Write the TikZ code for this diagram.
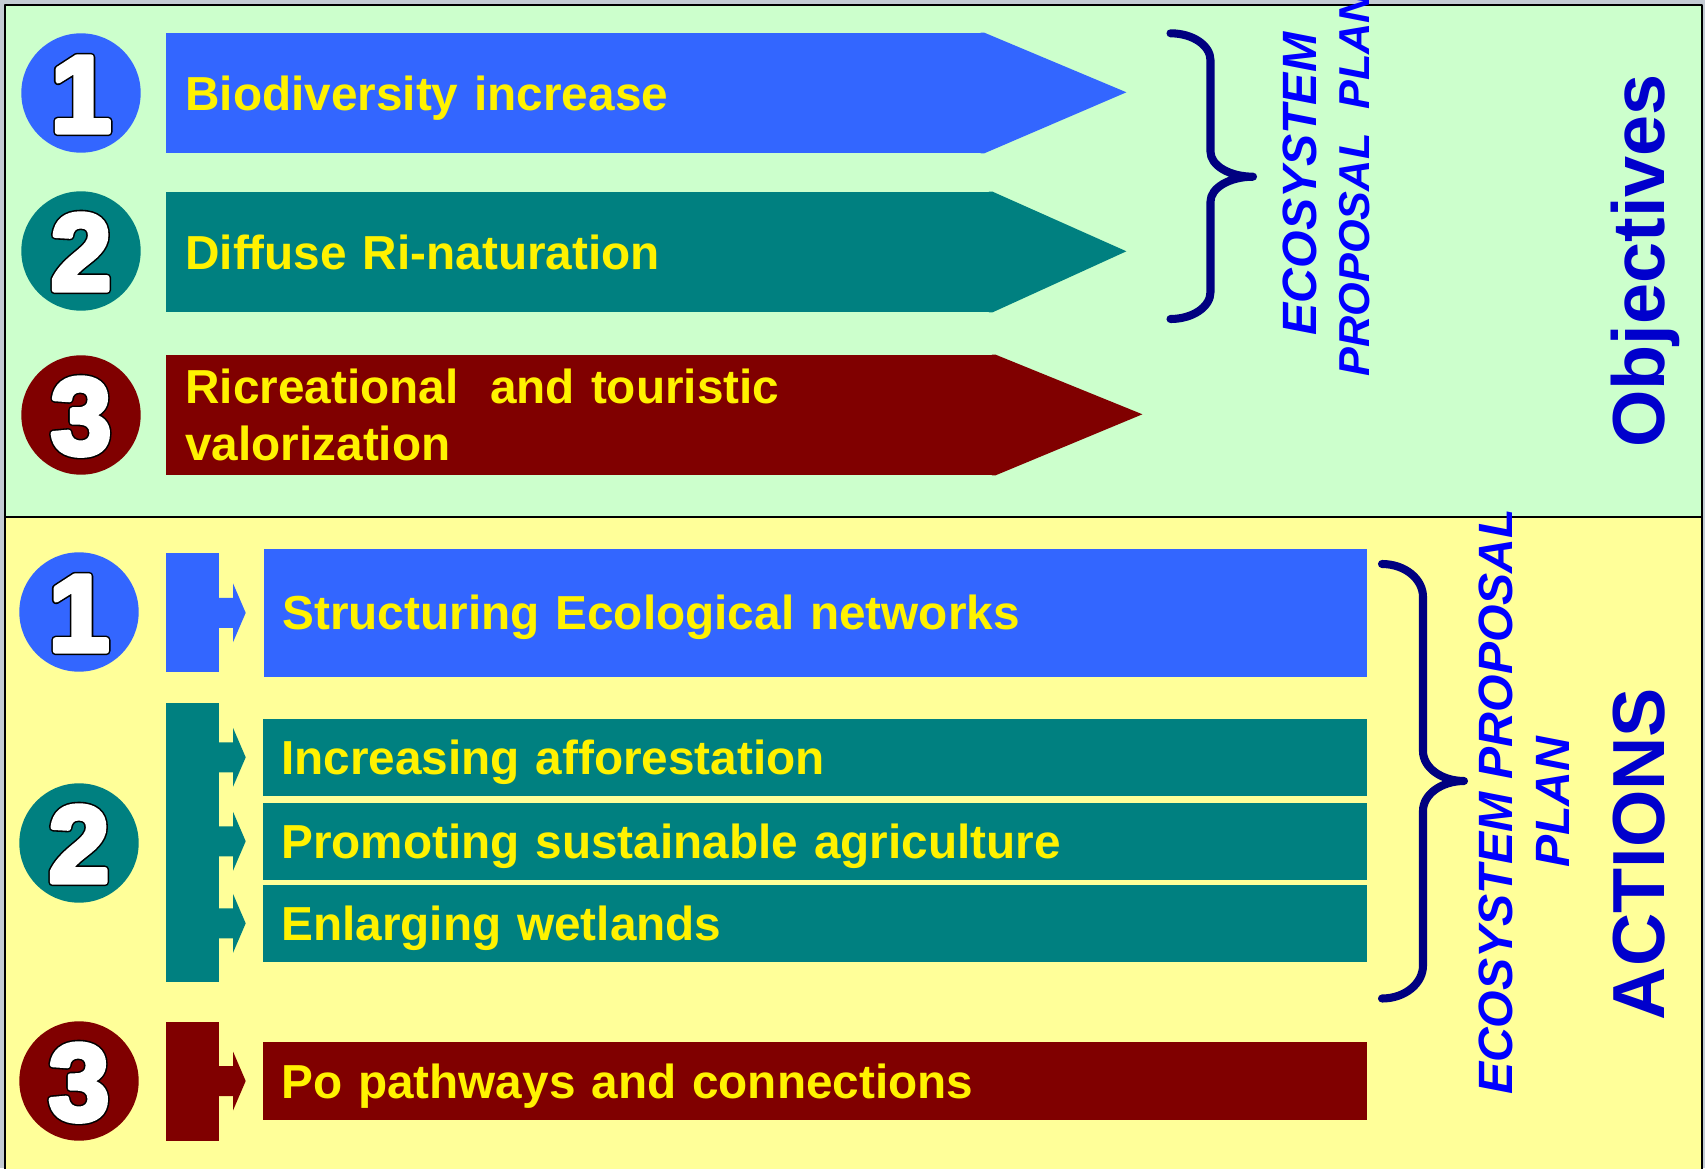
\documentclass[tikz,border=0pt]{standalone}
\usepackage{fontspec}
\setmainfont{Liberation Sans}
\definecolor{objgreen}{HTML}{CCFFCC}
\definecolor{actyellow}{HTML}{FFFF99}
\definecolor{itemblue}{HTML}{3366FF}
\definecolor{itemteal}{HTML}{008080}
\definecolor{itemred}{HTML}{800000}
\definecolor{bracenavy}{HTML}{000080}
\definecolor{planblue}{HTML}{0000FF}
\definecolor{titleblue}{HTML}{0000CC}
\definecolor{framegray}{HTML}{C4CCD4}
\newcommand{\outlinenum}[1]{\special{pdf:literal direct 0 G 2 Tr 2.4 w}\rlap{#1}\special{pdf:literal direct 1 G 2 Tr 1.5 w}#1\special{pdf:literal direct 0 Tr}}
\tikzset{pics/barhead/.style={code={\fill (-0.03,0.15) -- (0.136,0.15) -- (0.136,0.295) -- (0.263,0) -- (0.136,-0.295) -- (0.136,-0.15) -- (-0.03,-0.15) -- cycle;}}}
\begin{document}
\begin{tikzpicture}[line join=round, >=stealth,
		num/.style={circle, inner sep=0pt, minimum size=1.194cm, text=white, font=\fontsize{31}{31}\selectfont\bfseries, text height=0.78cm, text depth=0pt},
		objbox/.style={anchor=west, inner xsep=0.19cm, inner ysep=0pt, minimum height=1.194cm, text=yellow, align=left, font=\fontsize{13.58}{16.4}\selectfont\bfseries},
		capmid/.style={text height=0.343cm, text depth=0pt},
		actbox/.style={objbox, capmid, inner xsep=0.185cm, text width=10.67cm},
		bar/.style={inner sep=0pt, minimum width=0.53cm},
		brace/.style={bracenavy, line width=2.3pt, line cap=round},
		plan/.style={rotate=90, planblue, align=center, font=\fontsize{13.7}{15.1}\selectfont\bfseries\itshape},
		paneltitle/.style={rotate=90, anchor=base, titleblue, font=\fontsize{21}{24}\selectfont\bfseries}]
	\def\numx{0.81}
	\def\objx{1.656}
	\def\actx{2.62}
	\useasboundingbox (0,0) rectangle (17.05,11.68);
	\fill[framegray] (0,0) rectangle (17.05,11.68);
	\draw[line width=0.6pt, fill=objgreen] (0.05,11.63) rectangle (17.02,6.51);
	\draw[line width=0.6pt, fill=actyellow] (0.05,6.51) rectangle (17.02,-0.2);
	
	\node[num, fill=itemblue] (n1) at (\numx,10.75) {\outlinenum{1}};
	\node[num, fill=itemteal] (n2) at (\numx,9.17) {\outlinenum{2}};
	\node[num, fill=itemred] (n3) at (\numx,7.53) {\outlinenum{3}};
	\node[objbox, capmid, fill=itemblue, text width=7.791cm] (obj1) at (\objx,10.75) {Biodiversity increase};
	\fill[itemblue] ([xshift=-1pt]obj1.north east) -- (obj1.north east) -- ++(1.423,-0.597) -- (obj1.south east) -- ([xshift=-1pt]obj1.south east) -- cycle;
	\node[objbox, capmid, fill=itemteal, text width=7.874cm] (obj2) at (\objx,9.16) {Diffuse Ri-naturation};
	\fill[itemteal] ([xshift=-1pt]obj2.north east) -- (obj2.north east) -- ++(1.34,-0.597) -- (obj2.south east) -- ([xshift=-1pt]obj2.south east) -- cycle;
	\node[objbox, fill=itemred, text width=7.904cm] (obj3) at (\objx,7.53) {Ricreational~ and touristic\\valorization};
	\fill[itemred] ([xshift=-1pt]obj3.north east) -- (obj3.north east) -- ++(1.47,-0.597) -- (obj3.south east) -- ([xshift=-1pt]obj3.south east) -- cycle;
	\draw[brace] (11.705,11.347) arc[start angle=90, end angle=0, x radius=0.4, y radius=0.27] -- (12.105,10.163)
		arc[start angle=180, end angle=270, x radius=0.425, y radius=0.25]
		arc[start angle=90, end angle=180, x radius=0.425, y radius=0.25] -- (12.105,8.76)
		arc[start angle=0, end angle=-90, x radius=0.4, y radius=0.27];
	\node[plan] (plan1) at (13.265,9.84) {ECOSYSTEM\\{\fontsize{12.3}{15.1}\selectfont PROPOSAL~ PLAN}};
	\node[paneltitle] (objt) at (16.645,9.07) {Objectives};
	
	\node[num, fill=itemblue] (m1) at (0.79,5.56) {\outlinenum{1}};
	\node[num, fill=itemteal] (m2) at (0.79,3.25) {\outlinenum{2}};
	\node[num, fill=itemred] (m3) at (0.79,0.87) {\outlinenum{3}};
	\node[bar, fill=itemblue, minimum height=1.188cm] (bar1) at (1.922,5.558) {};
	\node[bar, fill=itemteal, minimum height=2.79cm] (bar2) at (1.922,3.255) {};
	\node[bar, fill=itemred, minimum height=1.187cm] (bar3) at (1.922,0.866) {};
	\node[actbox, fill=itemblue, minimum height=1.276cm, text width=10.66cm] (act1) at (2.633,5.552) {Structuring Ecological networks};
	\node[actbox, fill=itemteal, minimum height=0.774cm] (act2) at (\actx,4.107) {Increasing afforestation};
	\node[actbox, fill=itemteal, minimum height=0.775cm] (act3) at (\actx,3.2675) {Promoting sustainable agriculture};
	\node[actbox, fill=itemteal, minimum height=0.773cm] (act4) at (\actx,2.4465) {Enlarging wetlands};
	\node[actbox, fill=itemred, minimum height=0.78cm] (act5) at (\actx,0.87) {Po pathways and connections};
	\pic[itemblue] at (bar1.east |- act1.west) {barhead};
	\pic[itemteal] at (bar2.east |- act2.west) {barhead};
	\pic[itemteal] at (bar2.east |- act3.west) {barhead};
	\pic[itemteal] at (bar2.east |- act4.west) {barhead};
	\pic[itemred] at (bar3.east |- act5.west) {barhead};
	\draw[brace] (13.82,6.04) arc[start angle=90, end angle=0, x radius=0.41, y radius=0.33] -- (14.23,4.17)
		arc[start angle=180, end angle=270, x radius=0.41, y radius=0.3]
		arc[start angle=90, end angle=180, x radius=0.41, y radius=0.3] -- (14.23,2.025)
		arc[start angle=0, end angle=-90, x radius=0.41, y radius=0.33];
	\node[plan] (plan2) at (15.24,3.66) {ECOSYSTEM PROPOSAL\\[1.2pt]PLAN};
	\node[paneltitle] (actt) at (16.64,3.14) {ACTIONS};
\end{tikzpicture}
\end{document}
